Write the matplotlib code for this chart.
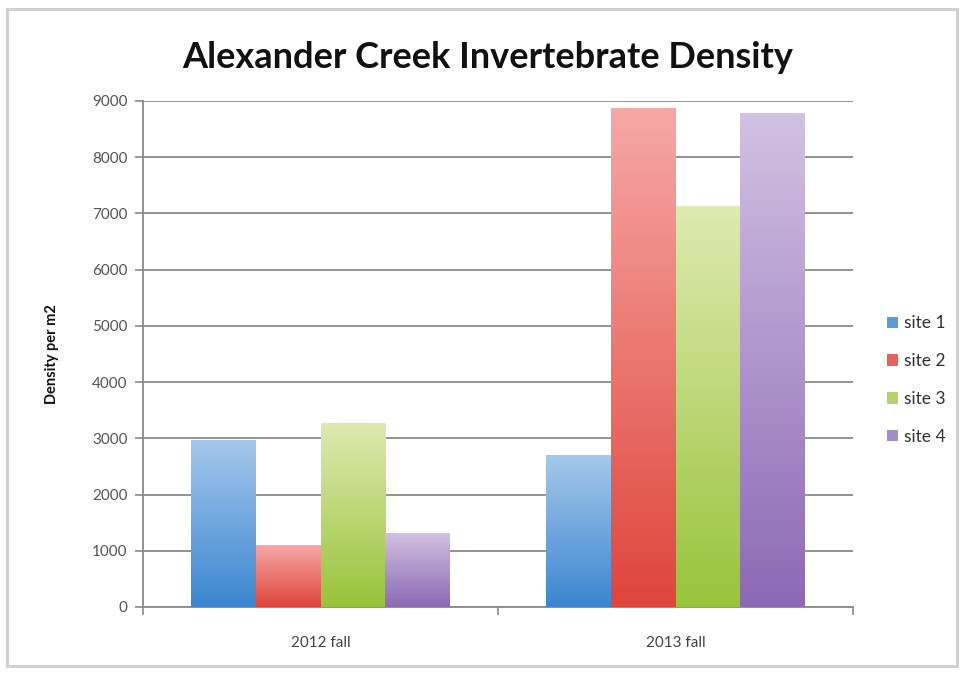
import numpy as np
import matplotlib
matplotlib.use("Agg")
import matplotlib.pyplot as plt
from matplotlib.colors import LinearSegmentedColormap
from matplotlib.patches import Rectangle, Patch

# Data
categories = ["2012 fall", "2013 fall"]
sites = ["site 1", "site 2", "site 3", "site 4"]
site1 = [2960, 2700]
site2 = [1090, 8870]
site3 = [3270, 7130]
site4 = [1300, 8770]
yticks = [0, 1000, 2000, 3000, 4000, 5000, 6000, 7000, 8000, 9000]

series = [site1, site2, site3, site4]
# (top colour, bottom colour) of each series' gradient
grad_colors = [
    ("#a6c8ec", "#3a86d0"),
    ("#f6a8a6", "#df453b"),
    ("#dfeab0", "#98c43a"),
    ("#d1c1e2", "#8c69b5"),
]
legend_colors = ["#5b9bd9", "#e8625c", "#b5d36a", "#a38bc8"]

plt.rcParams["font.family"] = ["Lato", "DejaVu Sans"]

fig = plt.figure(figsize=(9.64, 6.73), dpi=100)
fig.patch.set_facecolor("white")

# Outer chart frame
frame = Rectangle((7 / 964, 1 - 666 / 673), 950 / 964, 657 / 673,
                  transform=fig.transFigure, facecolor="none",
                  edgecolor="#d0d0d0", linewidth=2.2, zorder=0)
fig.patches.append(frame)

ax = fig.add_axes([143 / 964, 1 - 607 / 673, 710 / 964, 506 / 673])

x = np.arange(len(categories))
gap = 1.5
bw = 1.0 / (len(sites) + gap)
offsets = (np.arange(len(sites)) - (len(sites) - 1) / 2) * bw

for vals, (ctop, cbot), off in zip(series, grad_colors, offsets):
    bars = ax.bar(x + off, vals, width=bw, color="none", edgecolor="none", zorder=3)
    cmap = LinearSegmentedColormap.from_list("g", [cbot, ctop])
    grad = np.linspace(0, 1, 256).reshape(-1, 1)
    for b in bars:
        x0, w, h = b.get_x(), b.get_width(), b.get_height()
        ax.imshow(grad, extent=(x0, x0 + w, 0, h), origin="lower", cmap=cmap,
                  aspect="auto", zorder=3, interpolation="bilinear")

ax.set_xlim(-0.5, 1.5)
ax.set_ylim(0, 9000)
ax.set_yticks(yticks)
ax.set_yticklabels([str(v) for v in yticks])
ax.set_xticks(x)
ax.set_xticklabels(categories)
ax.set_xticks([-0.5, 0.5, 1.5], minor=True)

ax.grid(axis="y", color="#8a8a8a", linewidth=1.3, zorder=1)
ax.set_axisbelow(True)
for s in ["top", "right"]:
    ax.spines[s].set_visible(False)
for s in ["left", "bottom"]:
    ax.spines[s].set_color("#8a8a8a")
    ax.spines[s].set_linewidth(1.3)

ax.tick_params(axis="y", length=6, width=1.2, color="#8a8a8a",
               labelsize=11, labelcolor="#555555", pad=5)
ax.tick_params(axis="x", which="major", length=0, labelsize=11,
               labelcolor="#444444", pad=21)
ax.tick_params(axis="x", which="minor", length=6, width=1.2, color="#8a8a8a")

ax.set_ylabel("Density per m2", fontsize=10.5, fontweight="bold",
              color="#111111", labelpad=24)

fig.text(488 / 964, 1 - 57 / 673, "Alexander Creek Invertebrate Density",
         ha="center", va="center", fontsize=26, fontweight="bold", color="#111111")

handles = [Patch(facecolor=c, edgecolor="none") for c in legend_colors]
leg = fig.legend(handles, sites, loc="center left",
                 bbox_to_anchor=(880 / 964, 1 - 380 / 673), frameon=False,
                 fontsize=12.5, handlelength=0.65, handleheight=0.65,
                 handletextpad=0.35, labelspacing=1.25, borderaxespad=0)
for t in leg.get_texts():
    t.set_color("#333333")

fig.savefig("out.png", dpi=100, facecolor="white")
